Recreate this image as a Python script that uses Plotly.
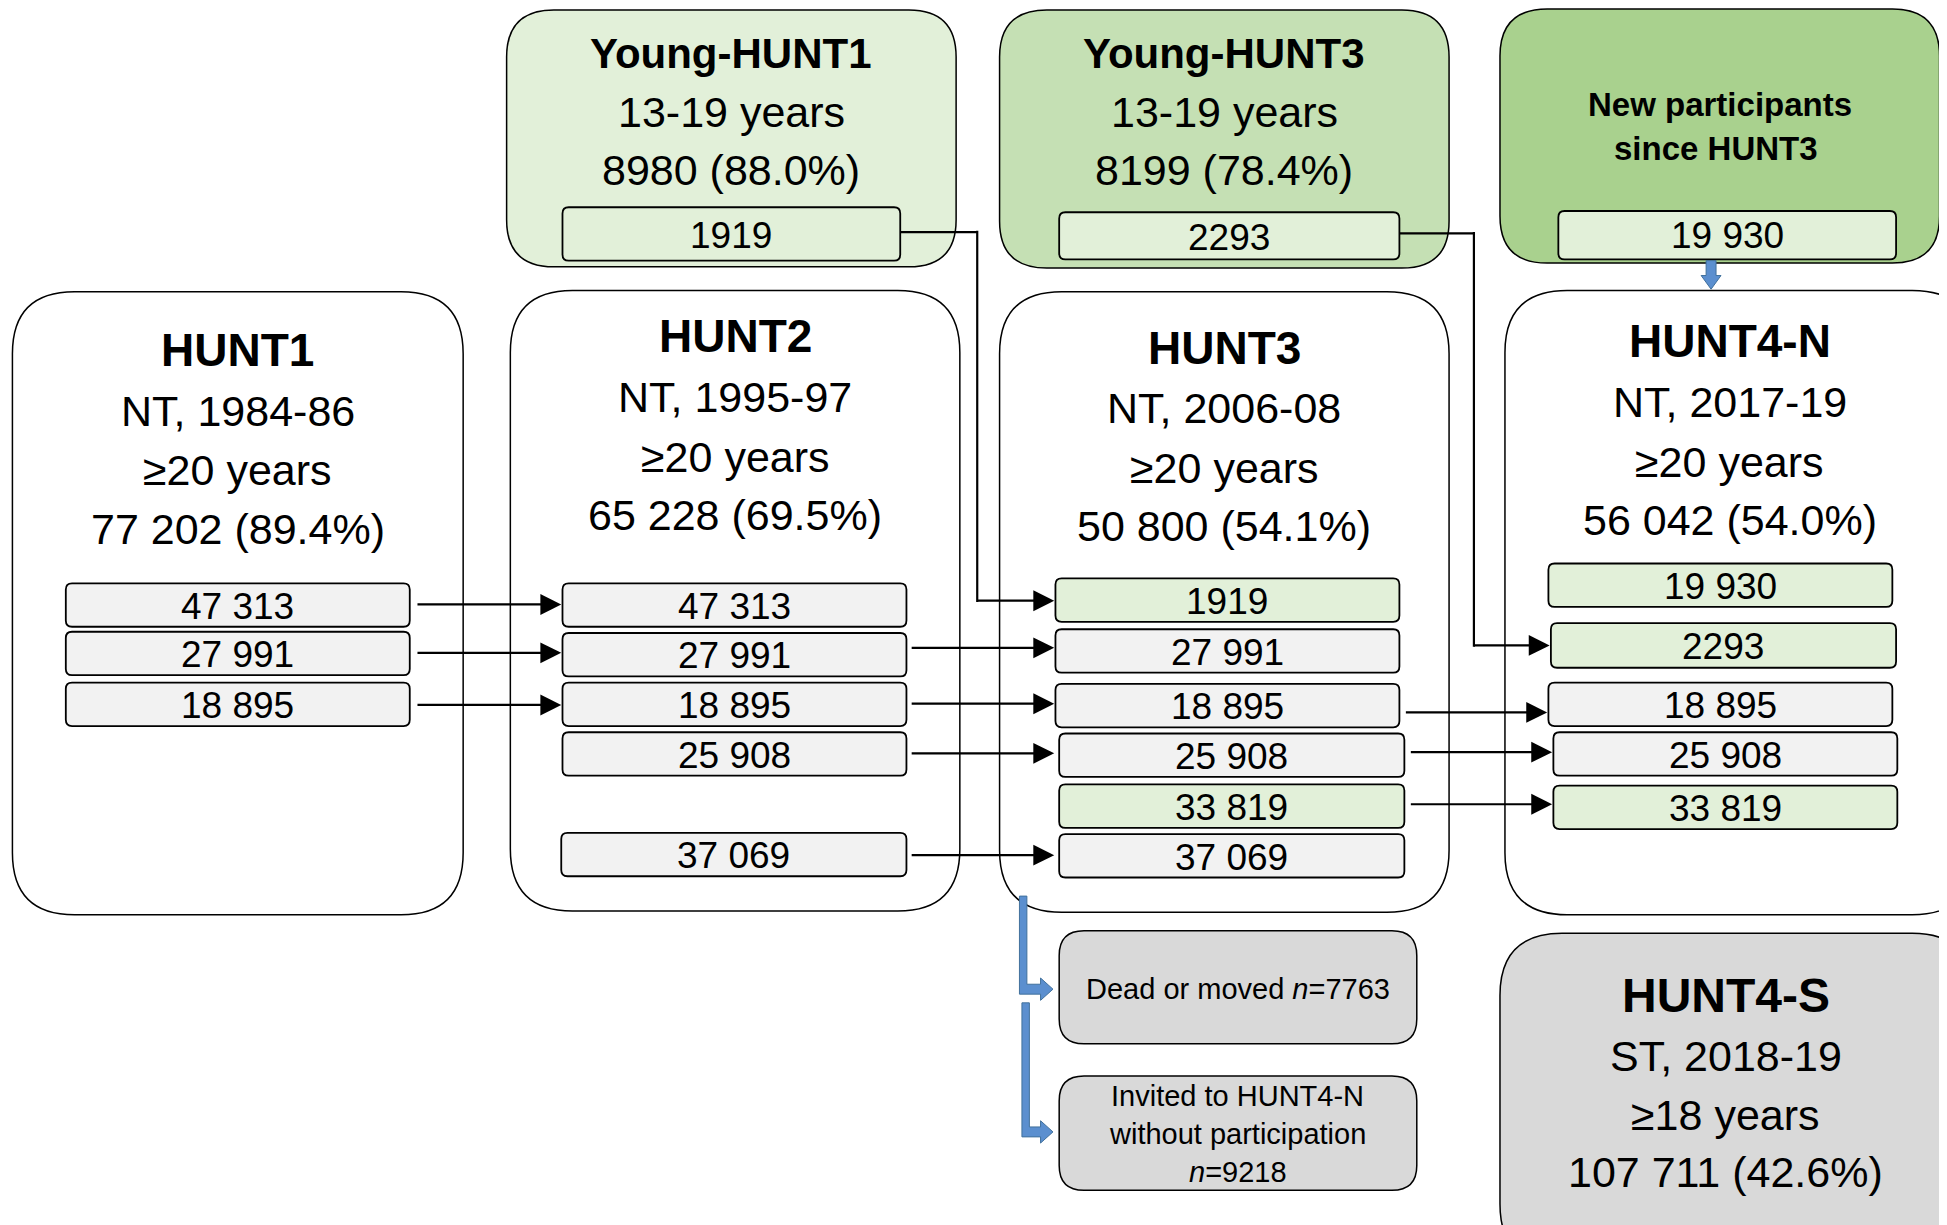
import plotly.graph_objects as go

# ---------------- data ----------------
cohort_names = ["HUNT1", "HUNT2", "HUNT3", "HUNT4-N"]
cohort_periods = ["NT, 1984-86", "NT, 1995-97", "NT, 2006-08", "NT, 2017-19"]
cohort_ages = ["≥20 years", "≥20 years", "≥20 years", "≥20 years"]
cohort_counts = ["77 202 (89.4%)", "65 228 (69.5%)", "50 800 (54.1%)", "56 042 (54.0%)"]

young_names = ["Young-HUNT1", "Young-HUNT3"]
young_ages = ["13-19 years", "13-19 years"]
young_counts = ["8980 (88.0%)", "8199 (78.4%)"]
young_transfer = ["1919", "2293"]

new_part_lines = ["New participants", "since HUNT3"]
new_part_count = "19 930"

hunt1_sub = ["47 313", "27 991", "18 895"]
hunt2_sub = ["47 313", "27 991", "18 895", "25 908", "37 069"]
hunt3_sub = ["1919", "27 991", "18 895", "25 908", "33 819", "37 069"]
hunt4n_sub = ["19 930", "2293", "18 895", "25 908", "33 819"]

dead_moved_n = "7763"
invited_n = "9218"
hunt4s_lines = ["HUNT4-S", "ST, 2018-19", "≥18 years", "107 711 (42.6%)"]

# ---------------- styles ----------------
FONT = "Liberation Sans, Arial, sans-serif"
GREEN1 = "#E2F0D9"
GREEN2 = "#C5E0B4"
GREEN3 = "#A9D18E"
GREY_LIGHT = "#F2F2F2"
GREY = "#D9D9D9"
BLUE = "#5B8FCF"
BLUE_LINE = "#41719C"

W, H = 1568, 987
# compensate the 8px page margin around the plot div
OFF_X = 8 / (1947 / W)
OFF_Y = 8 / (1225 / H)
shapes = []
annotations = []


def rrect(x0, y0, x1, y1, r, fill, lw=1.5, lc="black"):
    p = (f"M {x0+r},{y0} L {x1-r},{y0} Q {x1},{y0} {x1},{y0+r} "
         f"L {x1},{y1-r} Q {x1},{y1} {x1-r},{y1} L {x0+r},{y1} "
         f"Q {x0},{y1} {x0},{y1-r} L {x0},{y0+r} Q {x0},{y0} {x0+r},{y0} Z")
    shapes.append(dict(type="path", path=p, xref="x", yref="y",
                       fillcolor=fill, line=dict(color=lc, width=lw), layer="below"))


def text(x, y, s, size, bold=False):
    if bold:
        s = f"<b>{s}</b>"
    annotations.append(dict(x=x, y=y, xref="x", yref="y", text=s, showarrow=False,
                            font=dict(family=FONT, size=size, color="black"),
                            xanchor="center", yanchor="middle"))


def line(x0, y0, x1, y1, w=2.2, c="black"):
    shapes.append(dict(type="line", x0=x0, y0=y0, x1=x1, y1=y1, xref="x", yref="y",
                       line=dict(color=c, width=w)))


def arrow(x0, y0, x1, y1):
    annotations.append(dict(x=x1, y=y1, ax=x0, ay=y0, xref="x", yref="y",
                            axref="x", ayref="y", text="", showarrow=True,
                            arrowhead=2, arrowsize=1.9, arrowwidth=2.2, arrowcolor="black",
                            standoff=0, startstandoff=0))


def blue_poly(pts):
    p = "M " + " L ".join(f"{x},{y}" for x, y in pts) + " Z"
    shapes.append(dict(type="path", path=p, xref="x", yref="y",
                       fillcolor=BLUE, line=dict(color=BLUE_LINE, width=1)))


TITLE = 46
BIG = 43
SUB = 37

# ---------------- top boxes ----------------
young_boxes = [(408, 8, 770, 215, GREEN1), (805, 8, 1167, 216, GREEN2)]
young_inner = [(453, 167, 725, 210), (853, 171, 1127, 209)]
for i, (x0, y0, x1, y1, fc) in enumerate(young_boxes):
    rrect(x0, y0, x1, y1, 38, fc)
    cx = (x0 + x1) / 2
    text(cx, 43, young_names[i], 42, bold=True)
    text(cx, 90, young_ages[i], BIG)
    text(cx, 137, young_counts[i], BIG)
    ix0, iy0, ix1, iy1 = young_inner[i]
    rrect(ix0, iy0, ix1, iy1, 5, GREEN1, lw=1.8)
    text((ix0 + ix1) / 2, (iy0 + iy1) / 2 + 1, young_transfer[i], SUB)

rrect(1208, 7.2, 1562, 212, 38, GREEN3)
text(1385, 84, new_part_lines[0], 33, bold=True)
text(1382, 120, new_part_lines[1], 33, bold=True)
rrect(1255, 170, 1527, 209, 5, GREEN1, lw=1.8)
text(1391, 190, new_part_count, SUB)

# ---------------- cohort boxes ----------------
cohort_boxes = [(10, 235, 373, 737), (411, 234, 773, 734), (805, 235, 1167, 735), (1212, 234, 1590, 737)]
title_y = [282, 271, 280, 275]
for i, (x0, y0, x1, y1) in enumerate(cohort_boxes):
    rrect(x0, y0, x1, y1, 50, "white")
    cx = (x0 + x1) / 2 if i < 3 else 1393
    ty = title_y[i]
    text(cx, ty, cohort_names[i], TITLE, bold=True)
    text(cx, ty + 49, cohort_periods[i], BIG)
    text(cx, ty + 97, cohort_ages[i], BIG)
    text(cx, ty + 144, cohort_counts[i], BIG)

sub_boxes = {
    0: [(53, 470, 330, 505), (53, 509, 330, 544), (53, 550, 330, 585)],
    1: [(453, 470, 730, 505), (453, 510, 730, 545), (453, 550, 730, 585), (453, 590, 730, 625), (452, 671, 730, 706)],
    2: [(850, 466, 1127, 501), (850, 507, 1127, 542), (850, 551, 1127, 586), (853, 591, 1131, 626), (853, 632, 1131, 667), (853, 672, 1131, 707)],
    3: [(1247, 454, 1524, 489), (1249, 502, 1527, 538), (1247, 550, 1524, 585), (1251, 590, 1528, 625), (1251, 633, 1528, 668)],
}
sub_labels = {0: hunt1_sub, 1: hunt2_sub, 2: hunt3_sub, 3: hunt4n_sub}
green_subs = {(2, 0), (2, 4), (3, 0), (3, 1), (3, 4)}
for k, boxes in sub_boxes.items():
    for j, (x0, y0, x1, y1) in enumerate(boxes):
        fc = GREEN1 if (k, j) in green_subs else GREY_LIGHT
        rrect(x0, y0, x1, y1, 5, fc, lw=1.8)
        text((x0 + x1) / 2, (y0 + y1) / 2 + 1, sub_labels[k][j], SUB)

# ---------------- bottom boxes ----------------
rrect(853, 750, 1141, 841, 20, GREY)
text(997, 797, f"Dead or moved <i>n</i>={dead_moved_n}", 29)
rrect(853, 867, 1141, 959, 20, GREY)
text(997, 883, "Invited to HUNT4-N", 29)
text(997, 914, "without participation", 29)
text(997, 944, f"<i>n</i>={invited_n}", 29)

rrect(1208, 752, 1590, 1020, 50, GREY)
text(1390, 802, hunt4s_lines[0], 48, bold=True)
text(1390, 851, hunt4s_lines[1], BIG)
text(1390, 898, hunt4s_lines[2], BIG)
text(1390, 944, hunt4s_lines[3], BIG)

# ---------------- black arrows ----------------
# HUNT1 -> HUNT2
for y in [487, 526, 568]:
    arrow(335, y, 452, y)
# HUNT2 -> HUNT3
for y in [522, 567, 607, 689]:
    arrow(733, y, 849, y)
# HUNT3 -> HUNT4-N
for x0, y, x1 in [(1131, 574, 1246), (1135, 606, 1250), (1135, 648, 1250)]:
    arrow(x0, y, x1, y)
# Young-HUNT1 -> HUNT3
line(725, 187, 787, 187)
line(787, 186, 787, 485)
arrow(786, 484, 849, 484)
# Young-HUNT3 -> HUNT4-N
line(1127, 188, 1187, 188)
line(1187, 187, 1187, 521)
arrow(1186, 520, 1248, 520)

# ---------------- blue arrows ----------------
blue_poly([(1374, 210), (1382, 210), (1382, 222), (1386, 222), (1378, 233), (1370, 222), (1374, 222)])
blue_poly([(821, 722), (827, 722), (827, 793), (838, 793), (838, 788), (848, 797), (838, 806), (838, 801), (821, 801)])
blue_poly([(823, 808), (829, 808), (829, 908), (838, 908), (838, 903), (848, 912), (838, 921), (838, 916), (823, 916)])

fig = go.Figure()
fig.update_layout(
    width=1947, height=1225,
    margin=dict(l=0, r=0, t=0, b=0),
    paper_bgcolor="white", plot_bgcolor="white",
    xaxis=dict(range=[OFF_X, W + OFF_X], visible=False, fixedrange=True),
    yaxis=dict(range=[H + OFF_Y, OFF_Y], visible=False, fixedrange=True),
    shapes=shapes, annotations=annotations, showlegend=False,
)
fig.write_html("out.html")
